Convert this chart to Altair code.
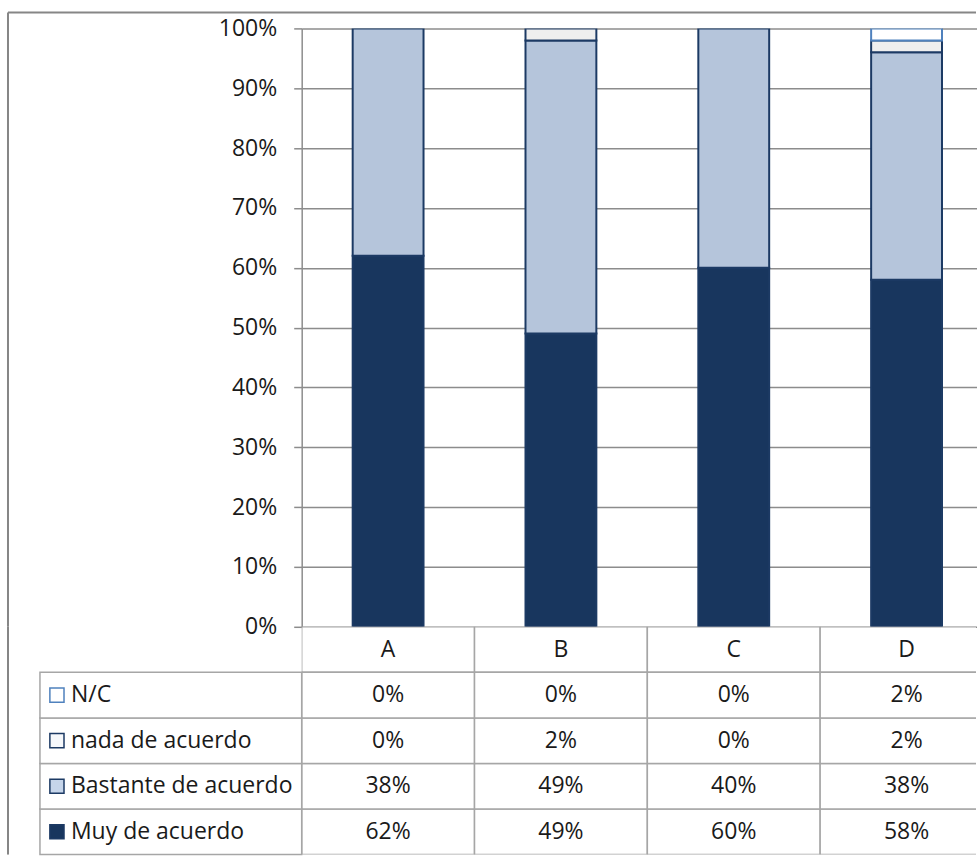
import altair as alt
import pandas as pd

# Survey answers per group, in percent
categorias = ["A", "B", "C", "D"]
series = ["Muy de acuerdo", "Bastante de acuerdo", "nada de acuerdo", "N/C"]
muy_de_acuerdo = [62, 49, 60, 58]
bastante_de_acuerdo = [38, 49, 40, 38]
nada_de_acuerdo = [0, 2, 0, 2]
no_contesta = [0, 0, 0, 2]
ticks_y = [0, 10, 20, 30, 40, 50, 60, 70, 80, 90, 100]

# Styling
relleno = ["#18365E", "#B5C5DB", "#EEEEEE", "#FFFFFF"]
borde = ["#1C3A64", "#1C3A64", "#1C3A64", "#4F81BD"]
relleno_muestra = ["#18365E", "#C6D5EA", "#F6F8FB", "#FFFFFF"]
GRIS = "#8C8C8C"
GRIS_TABLA = "#A6A6A6"
FUENTE = "Open Sans"
TAM = 23

valores = [muy_de_acuerdo, bastante_de_acuerdo, nada_de_acuerdo, no_contesta]

filas = []
for i, s in enumerate(series):
    for j, c in enumerate(categorias):
        v = valores[i][j]
        filas.append({"serie": s, "cat": c, "valor": v, "orden": i, "txt": f"{v}%"})
df = pd.DataFrame(filas)

W = 675    # visible plot width
RANGO = 692  # the category scale runs a little past the visible edge
H = 599    # plot height
HT = 228   # data-table height

x_bar = alt.X(
    "cat:N",
    scale=alt.Scale(domain=categorias, range=[0, RANGO], paddingInner=0.59, paddingOuter=0.295),
    axis=None,
)

barras = (
    alt.Chart(df)
    .transform_filter("datum.valor > 0")
    .mark_bar(strokeWidth=2, clip=True)
    .encode(
        x=x_bar,
        y=alt.Y(
            "valor:Q",
            stack="zero",
            scale=alt.Scale(domain=[0, 100], nice=False),
            axis=alt.Axis(
                values=ticks_y,
                labelExpr="datum.value + '%'",
                title=None,
                grid=True,
                gridColor=GRIS,
                gridWidth=1.5,
                domainColor=GRIS,
                domainWidth=1.5,
                tickColor=GRIS,
                tickWidth=1.5,
                tickSize=8,
                labelPadding=17,
                labelFont=FUENTE,
                labelFontSize=TAM,
                labelColor="#1A1A1A",
            ),
        ),
        fill=alt.Fill("serie:N", scale=alt.Scale(domain=series, range=relleno), legend=None),
        stroke=alt.Stroke("serie:N", scale=alt.Scale(domain=series, range=borde), legend=None),
        order=alt.Order("orden:Q", sort="ascending"),
    )
)

uno = pd.DataFrame({"k": [0]})
marco_sup = alt.Chart(uno).mark_rule(color="#868686", strokeWidth=2).encode(
    x=alt.value(-294), x2=alt.value(W), y=alt.value(-16)
)
marco_izq = alt.Chart(uno).mark_rule(color="#868686", strokeWidth=2).encode(
    x=alt.value(-294), y=alt.value(-16), y2=alt.value(H)
)

grafico = alt.layer(marco_sup, marco_izq, barras).properties(width=W, height=H)

# Data table under the plot
orden_tabla = ["N/C", "nada de acuerdo", "Bastante de acuerdo", "Muy de acuerdo"]
filas_tabla = ["cabecera"] + orden_tabla

celdas = []
for c in categorias:
    celdas.append({"fila": "cabecera", "cat": c, "txt": c})
for _, r in df.iterrows():
    celdas.append({"fila": r["serie"], "cat": r["cat"], "txt": r["txt"]})
df_celdas = pd.DataFrame(celdas)

df_etiq = pd.DataFrame(
    {
        "fila": series,
        "relleno": relleno_muestra,
        "borde": borde,
    }
)

y_tabla = alt.Y(
    "fila:N",
    scale=alt.Scale(domain=filas_tabla, paddingInner=0, paddingOuter=0),
    axis=None,
)
x_tabla = alt.X(
    "cat:N", scale=alt.Scale(domain=categorias, range=[0, RANGO], padding=0), axis=None
)

cajas = alt.Chart(df_celdas).mark_rect(
    fill="white", stroke=GRIS_TABLA, strokeWidth=1.5, clip=True
).encode(x=x_tabla, y=y_tabla)
textos = alt.Chart(df_celdas).mark_text(
    font=FUENTE, fontSize=TAM, color="#1A1A1A", clip=True
).encode(x=x_tabla, y=y_tabla, text="txt:N")
cajas_etiq = alt.Chart(df_etiq).mark_rect(fill="white", stroke=GRIS_TABLA, strokeWidth=1.5).encode(
    x=alt.value(-262), x2=alt.value(0), y=y_tabla
)
muestras = alt.Chart(df_etiq).mark_square(size=200, strokeWidth=1.5, opacity=1).encode(
    x=alt.value(-245),
    y=y_tabla,
    fill=alt.Fill("relleno:N", scale=None),
    stroke=alt.Stroke("borde:N", scale=None),
)
etiquetas = alt.Chart(df_etiq).mark_text(
    font=FUENTE, fontSize=TAM, align="left", color="#1A1A1A"
).encode(x=alt.value(-231), y=y_tabla, text="fila:N")
marco_izq2 = alt.Chart(uno).mark_rule(color="#868686", strokeWidth=2).encode(
    x=alt.value(-294), y=alt.value(0), y2=alt.value(HT)
)

tabla = alt.layer(marco_izq2, cajas, cajas_etiq, textos, muestras, etiquetas).properties(
    width=W, height=HT
)

chart = (
    alt.vconcat(grafico, tabla, spacing=0, bounds="flush")
    .properties(padding={"left": 7, "top": 11, "right": 0, "bottom": 0}, background="white")
    .configure_view(stroke=None)
)

chart.save("out.html", embed_options={"renderer": "svg", "actions": False})
